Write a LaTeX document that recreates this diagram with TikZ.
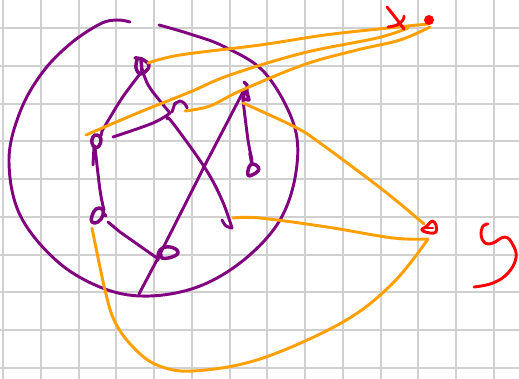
\documentclass[tikz,border=0pt]{standalone}
\definecolor{gridc}{RGB}{208,208,208}
\definecolor{pur}{RGB}{128,0,128}
\definecolor{org}{RGB}{255,160,0}
\definecolor{rd}{RGB}{255,0,0}
\tikzset{
  ink/.style={line width=2.2pt,line cap=round,line join=round},
  purp/.style={ink,draw=pur},
  blob/.style={purp,line width=2.6pt},
  oran/.style={ink,draw=org},
  redd/.style={ink,draw=rd},
  gridl/.style={draw=gridc,line width=1.5pt}
}
\begin{document}
\begin{tikzpicture}[x=0.75pt,y=-0.75pt]
\useasboundingbox (0,0) rectangle (519,379);
\fill[white] (0,0) rectangle (519,379);
\foreach \i in {0,...,13} \draw[gridl] ({3.2+37.75*\i},0) -- ({3.2+37.75*\i},379);
\foreach \j in {0,...,9} \draw[gridl] (0,{28+37.75*\j}) -- (519,{28+37.75*\j});
% big circle
\draw[purp] plot[smooth,tension=0.6] coordinates {(130,22) (117,20) (100,24) (70,44) (42,73) (20,112) (9,160) (20,215) (58,262) (105,289) (150,296) (200,286) (245,259) (280,220) (296,172) (294,125) (265,73) (225,47) (190,34) (159,25)};
% graph
\draw[blob] plot[smooth,tension=0.7] coordinates {(135,58) (142,59) (149,65) (146,71) (140,74) (136,68) (137,60)};
\draw[blob] (141,60) -- (142,71);
\draw[purp] plot[smooth,tension=0.5] coordinates {(143,70) (122,98) (102,131)};
\draw[purp] plot[smooth,tension=0.6] coordinates {(143,72) (150,88) (170,113)};
\draw[purp] plot[smooth,tension=0.6] coordinates {(113,137) (153,123) (170,113)};
\draw[purp] (172,112) -- (175,103);
\draw[purp] plot[smooth,tension=0.7] coordinates {(175,104) (180,101) (185,104) (187,108)};
\draw[purp] plot[smooth,tension=0.6] coordinates {(167,119) (172,122) (205,168) (222,200) (232,228)};
\draw[purp] plot[smooth,tension=0.6] coordinates {(222,220) (226,226) (232,228)};
\draw[purp] (243,92) -- (205,165) -- (158,258) -- (139,294);
\draw[blob] (244,82) -- (247,85) -- (247,92) -- (249,100) -- (243,99) -- (245,90);
\draw[purp] plot[smooth,tension=0.6] coordinates {(243,100) (248,140) (252,160)};
\draw[blob] plot[smooth cycle,tension=0.8] coordinates {(253,164) (258,167) (258,171) (252,175) (248,175) (249,167)};
\draw[blob] (250,153) -- (252,164);
\draw[blob] plot[smooth cycle,tension=0.8] coordinates {(97,135) (101,139) (99,146) (95,147) (92,143) (93,137)};
\draw[purp] (102,131) -- (101,136);
\draw[purp] (94,147) -- (93,165);
\draw[purp] plot[smooth,tension=0.6] coordinates {(95,147) (100,190) (104,210)};
\draw[blob] plot[smooth cycle,tension=0.8] coordinates {(102,209) (96,209) (92,216) (92,222) (98,222) (103,215)};
\draw[blob] (103,213) -- (106,216);
\draw[purp] (108,222) -- (120,232) -- (157,258);
\draw[blob] plot[smooth,tension=0.8] coordinates {(158,260) (160,250) (170,247) (178,252) (172,257) (162,258) (161,254)};
% orange
\draw[oran] plot[smooth,tension=0.6] coordinates {(148,63) (180,55) (260,45) (325,35) (388,28) (428,24)};
\draw[oran] plot[smooth,tension=0.6] coordinates {(86,135) (140,112) (190,92) (230,75) (303,53) (377,38) (408,28)};
\draw[oran] plot[smooth,tension=0.6] coordinates {(185,111) (210,106) (240,91) (303,65) (357,50) (400,40) (430,27)};
\draw[oran] plot[smooth,tension=0.6] coordinates {(243,103) (295,127) (320,143) (383,190) (424,224)};
\draw[oran] plot[smooth,tension=0.6] coordinates {(233,218) (260,218) (327,227) (393,238) (428,239)};
\draw[oran] plot[smooth,tension=0.6] coordinates {(92,228) (105,290) (115,322) (133,347) (157,365) (193,371) (260,359) (343,322) (393,283) (428,239)};
% red
\draw[redd] plot[smooth,tension=0.4] coordinates {(387,7) (395,17) (404,29)};
\draw[redd] plot[smooth,tension=0.6] coordinates {(388,27) (397,25) (403,20) (404,16)};
\fill[rd] (429,20) circle (5);
\draw[redd] plot[smooth,tension=0.7] coordinates {(422,229) (427,226) (432,221) (436,225) (436,232) (430,233) (423,231) (422,229)};
\draw[redd] (426,228) -- (433,228);
\draw[redd] plot[smooth,tension=0.7] coordinates {(488,224) (483,226) (481,235) (485,243) (493,243) (505,237) (513,245) (516,258) (508,273) (493,283) (474,287)};
\end{tikzpicture}
\end{document}
